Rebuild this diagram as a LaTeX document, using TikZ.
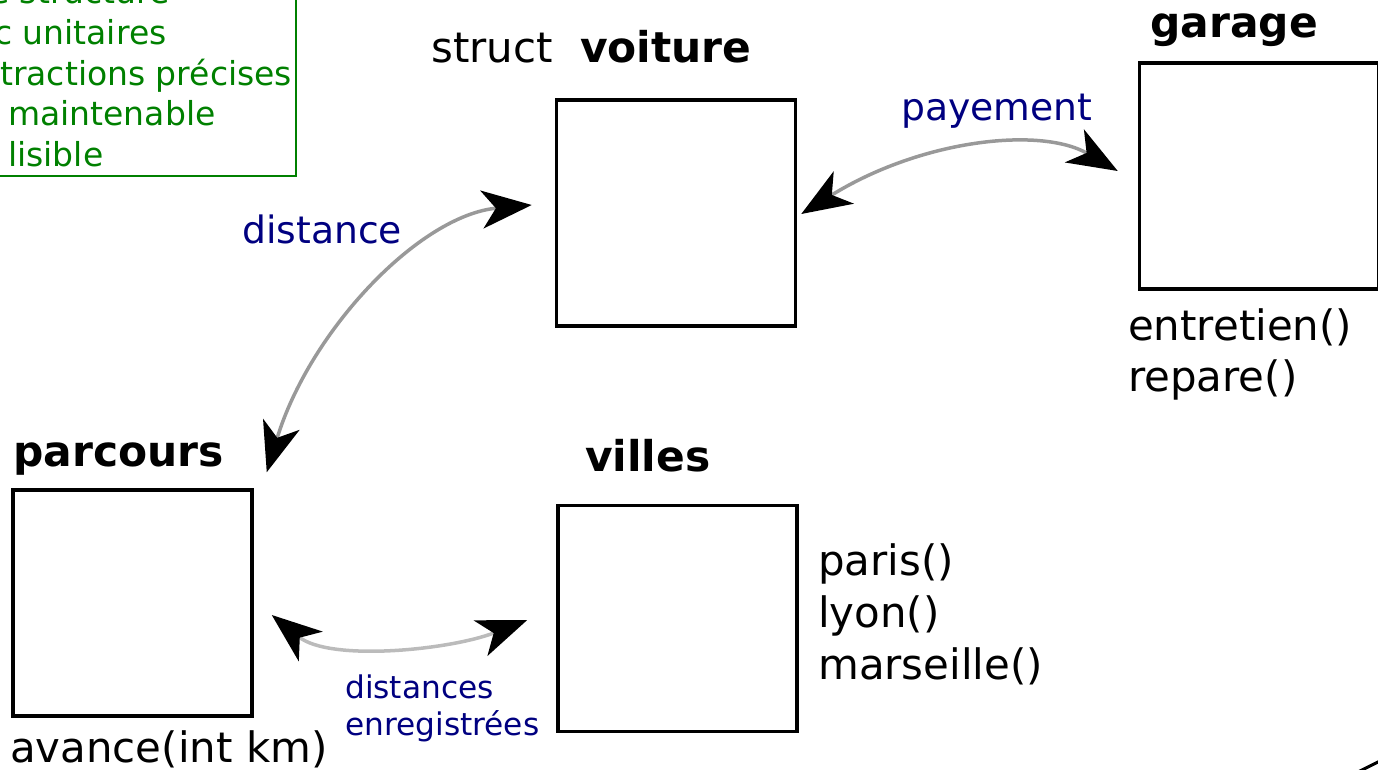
\documentclass[tikz,border=0pt]{standalone}
\usepackage{fontspec}
\setmainfont{DejaVu Sans}
\usetikzlibrary{arrows.meta,calc}
\definecolor{grn}{HTML}{008000}
\definecolor{nvy}{HTML}{000080}
\definecolor{arrgray}{HTML}{999999}
\definecolor{arrlight}{HTML}{BBBBBB}
\tikzset{
  classbox/.style={draw=black, line width=3.5pt, minimum width=239pt, minimum height=226pt, inner sep=0pt},
  txt/.style={anchor=base west, inner sep=0pt, font=\fontsize{41.9}{52}\selectfont},
  btxt/.style={anchor=base west, inner sep=0pt, font=\fontsize{42.4}{52}\selectfont\bfseries},
  lbl/.style={anchor=base west, inner sep=0pt, text=nvy, font=\fontsize{37.7}{45}\selectfont},
  slbl/.style={anchor=base west, inner sep=0pt, text=nvy, font=\fontsize{31.2}{37}\selectfont},
  gtxt/.style={anchor=base west, inner sep=0pt, text=grn, font=\fontsize{33}{41}\selectfont},
  tip/.style={Stealth[length=50pt,width=38pt,inset=14pt,color=black]},
  link/.style={line width=3.5pt, draw=arrgray, {Stealth[length=50pt,width=38pt,inset=14pt,color=black]}-{Stealth[length=50pt,width=38pt,inset=14pt,color=black]}},
}
\begin{document}
\begin{tikzpicture}[x=1pt,y=-1pt]
\useasboundingbox (0,0) rectangle (1378,769);
\clip (0,0) rectangle (1378,769);
% green note box (partly outside)
\draw[grn, line width=2.8pt] (-30,-30) rectangle (296,176);
\node[gtxt] (g1) at (-11,3) {e structure};
\node[gtxt] (g2) at (-6,44) {c unitaires};
\node[gtxt] (g3) at (0,85) {tractions précises};
\node[gtxt] (g4) at (8,125) {maintenable};
\node[gtxt] (g5) at (8,166) {lisible};
% boxes
\node[classbox] (voiture) at (676,213) {};
\node[classbox] (garage) at (1259,176) {};
\node[classbox] (parcours) at (132.5,603) {};
\node[classbox] (villes) at (677.5,618.5) {};
% titles
\node[txt] (structlbl) at (431,62) {struct};
\node[btxt] (voiturelbl) at (580,62) {voiture};
\node[btxt] (garagelbl) at (1150,37) {garage};
\node[btxt] (parcourslbl) at (13,466) {parcours};
\node[btxt] (villeslbl) at (585,471) {villes};
% methods
\node[txt] (m1) at (1128,340) {entretien()};
\node[txt] (m2) at (1128,391) {repare()};
\node[txt] (m3) at (818,575) {paris()};
\node[txt] (m4) at (818,627) {lyon()};
\node[txt] (m5) at (818,679) {marseille()};
\node[txt] (m6) at (10,762) {avance(int km)};
% labels
\node[lbl] (l1) at (901,120) {payement};
\node[lbl] (l2) at (242,243) {distance};
\node[slbl] (l3) at (345,698) {distances};
\node[slbl] (l4) at (345,735) {enregistrées};
% connectors
\coordinate (a1s) at ($(voiture.east)+(4,1)$);
\coordinate (a1e) at ($(garage.west)+(-20,-5)$);
\draw[link] (a1s) .. controls (920,140) and (1040,126) .. (a1e);
\coordinate (a2s) at ($(voiture.west)+(-23,-8)$);
\coordinate (a2e) at ($(parcours.north east)+(13,-16)$);
\draw[link] (a2s) .. controls (420,215) and (310,330) .. (a2e);
\coordinate (a3s) at ($(parcours.east)+(18,12)$);
\coordinate (a3e) at ($(villes.west)+(-29,1.5)$);
\draw[link, draw=arrlight] (a3s) .. controls (330,662) and (450,650) .. (a3e);
% fragment at bottom right
\coordinate (fragA) at (1358,772);
\coordinate (fragB) at (1382,760);
\draw[line width=3pt] (fragA) -- (fragB);
\end{tikzpicture}
\end{document}
